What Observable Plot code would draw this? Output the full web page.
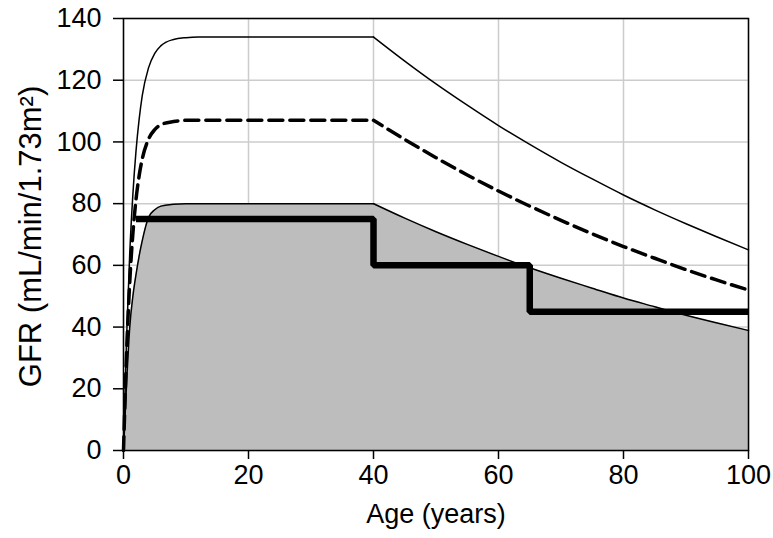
<!DOCTYPE html>
<html>
<head>
<meta charset="utf-8">
<script src="https://cdn.jsdelivr.net/npm/d3@7"></script>
<script src="https://cdn.jsdelivr.net/npm/@observablehq/plot@0.6"></script>
<style>
  body { margin: 0; background: #fff; }
</style>
</head>
<body>
<div id="chart"></div>
<script>
const ages  = [0, 0.5, 1, 1.5, 2, 2.5, 3, 4, 5, 6, 8, 10, 12, 15, 20, 30, 40, 45, 50, 55, 60, 65, 70, 75, 80, 85, 90, 95, 100];
const upper = [0, 37, 64, 83, 97, 107.3, 115, 124, 128.7, 131.2, 133.2, 133.8, 134, 134, 134, 134, 134, 126.2, 118.8, 111.9, 105.3, 99.2, 93.4, 88, 82.8, 78, 73.5, 69.2, 65];
const mean  = [0, 32, 54.6, 70.3, 81.3, 89, 94.5, 100.9, 104, 105.6, 106.6, 107, 107, 107, 107, 107, 107, 100.8, 94.9, 89.3, 84.1, 79.2, 74.6, 70.2, 66.1, 62.3, 58.6, 55.2, 52];
const lower = [0, 22, 40, 50, 57, 63, 68, 75.5, 78, 79.2, 79.8, 80, 80, 80, 80, 80, 80, 75.3, 70.9, 66.8, 62.9, 59.2, 55.8, 52.6, 49.4, 46.6, 43.8, 41.3, 38.9];
const peakAge = 40;

const stepAges = [2, 40, 65, 100];
const stepGFR  = [75, 60, 45, 45];

const xTicks = [0, 20, 40, 60, 80, 100];
const yTicks = [0, 20, 40, 60, 80, 100, 120, 140];
const xLabel = "Age (years)";
const yLabel = "GFR (mL/min/1.73m²)";

// split into a rising/plateau part and a declining part so the corner at 40 stays sharp
const curves = [];
ages.forEach((a, i) => {
  const row = {age: a, upper: upper[i], mean: mean[i], lower: lower[i]};
  if (a <= peakAge) curves.push({...row, seg: "rise"});
  if (a >= peakAge) curves.push({...row, seg: "decline"});
});
const steps = stepAges.map((a, i) => ({age: a, gfr: stepGFR[i]}));

const FS = 27;
const chart = Plot.plot({
  width: 773,
  height: 538,
  marginLeft: 123,
  marginRight: 25,
  marginTop: 18,
  marginBottom: 88,
  style: {fontFamily: "'Liberation Sans', Arial, sans-serif", fontSize: FS + "px", color: "#000", background: "#fff"},
  x: {domain: [0, 100]},
  y: {domain: [0, 140]},
  marks: [
    Plot.gridX(xTicks, {stroke: "#cccccc", strokeOpacity: 1, strokeWidth: 1.5}),
    Plot.gridY(yTicks, {stroke: "#cccccc", strokeOpacity: 1, strokeWidth: 1.5}),
    Plot.area(curves, {x1: "age", y1: 0, y2: "lower", z: "seg", fill: "#bdbdbd", curve: "monotone-x"}),
    Plot.line(curves, {x: "age", y: "lower", z: "seg", stroke: "#000", strokeWidth: 1.5, curve: "monotone-x"}),
    Plot.line(curves, {x: "age", y: "upper", z: "seg", stroke: "#000", strokeWidth: 1.5, curve: "monotone-x"}),
    Plot.line(curves.filter(d => d.seg === "rise"), {x: "age", y: "mean", stroke: "#000", strokeWidth: 3.5, strokeDasharray: "14,7", curve: "monotone-x"}),
    Plot.line(curves.filter(d => d.seg === "decline"), {x: "age", y: "mean", stroke: "#000", strokeWidth: 3.5, strokeDasharray: "14,7", strokeDashoffset: 4, curve: "monotone-x"}),
    Plot.line(steps, {x: "age", y: "gfr", stroke: "#000", strokeWidth: 6.5, curve: "step-after", strokeLinejoin: "miter", strokeLinecap: "butt"}),
    Plot.frame({stroke: "#000", strokeWidth: 1.5}),
    Plot.axisX({ticks: xTicks, tickSize: 9, tickPadding: 5, fontSize: FS, label: null, strokeWidth: 1.5}),
    Plot.axisY({ticks: yTicks, tickSize: 10, tickPadding: 12, fontSize: FS, label: null, strokeWidth: 1.5}),
    Plot.text([xLabel], {text: d => d, frameAnchor: "bottom", dy: 72, fontSize: FS, fill: "#000"}),
    Plot.text([yLabel], {text: d => d, frameAnchor: "left", textAnchor: "middle", dx: -92, dy: 2, rotate: -90, fontSize: 31, fill: "#000"})
  ]
});
document.getElementById("chart").appendChild(chart);
</script>
</body>
</html>
